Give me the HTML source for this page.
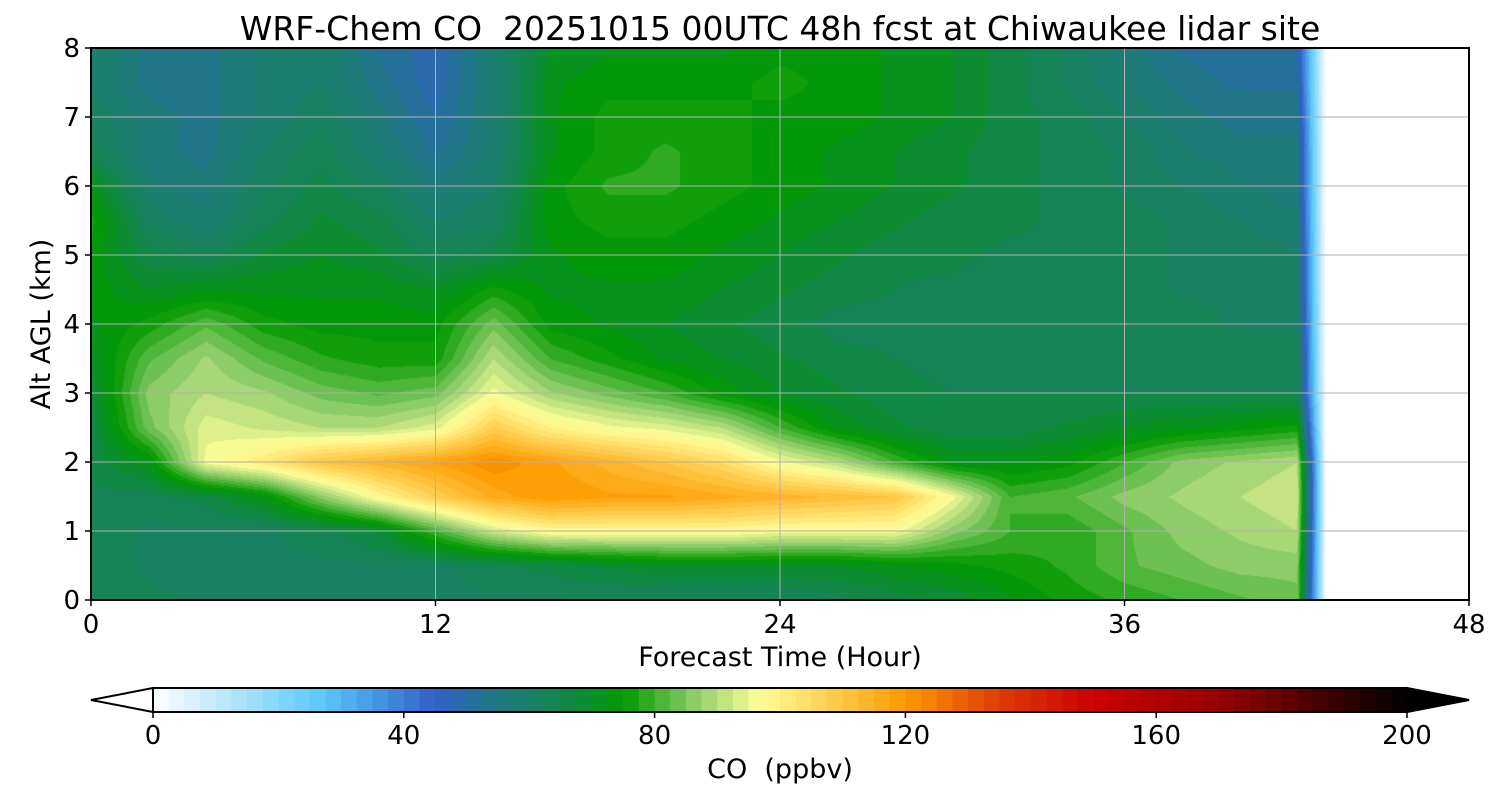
<!DOCTYPE html>
<html><head><meta charset="utf-8">
<style>
body{margin:0;background:#fff;width:1500px;height:800px;overflow:hidden;font-family:"DejaVu Sans","Liberation Sans",sans-serif;}
#wrap{position:relative;width:1500px;height:800px;}
canvas{position:absolute;}
svg{position:absolute;left:0;top:0;}
text{white-space:pre;}
</style></head><body>
<div id="wrap">
<canvas id="cv" width="1378" height="552" style="left:91px;top:48px"></canvas>
<svg id="sv" width="1500" height="800"></svg>
</div>
<script>
const hours=[0,2,4,6,8,10,12,14,16,18,20,22,24,26,28,30,32,34,36,38,40,42];
const alts=[0,0.5,1,1.5,2,2.5,3,3.5,4,4.5,5,5.5,6,6.5,7,7.5,8];
const coRows=[
[65,63,62,62,62,62,62,62,62,62,62,62,62,64,66,68,72,76,78,80,82,84],
[64,62,62,62,62,62,62,64,66,68,70,70,70,70,72,74,76,78,82,84,86,86],
[64,62,62,62,64,68,80,92,98,98,98,98,96,96,96,86,80,78,82,86,88,90],
[64,64,66,72,86,98,108,116,120,118,118,116,114,112,110,96,80,82,86,88,90,92],
[66,72,96,102,110,114,118,122,118,114,110,105,96,90,80,72,72,74,80,86,88,90],
[66,84,94,92,90,90,94,108,100,96,94,90,80,72,68,66,66,68,70,72,74,76],
[68,86,90,88,84,82,84,96,88,84,80,74,70,68,66,65,65,65,65,65,65,65],
[70,82,88,82,78,76,76,90,80,76,72,70,68,66,65,64,64,64,64,64,64,64],
[72,76,82,76,74,74,74,84,74,72,70,68,66,64,64,64,64,64,64,64,62,62],
[74,70,72,72,72,72,70,76,72,72,72,70,68,66,65,64,64,64,64,62,62,60],
[74,66,64,68,70,68,64,66,72,74,74,72,70,68,66,66,64,64,64,62,62,60],
[76,62,58,64,68,66,60,62,74,76,76,74,72,70,68,66,66,64,64,62,60,58],
[72,58,56,62,66,62,56,60,74,78,78,76,74,72,70,68,66,64,62,60,58,56],
[64,56,54,60,64,58,52,58,72,76,78,76,74,72,70,68,66,64,62,58,56,56],
[62,56,54,58,62,56,50,58,72,76,76,76,74,74,72,70,66,64,60,56,54,54],
[60,54,54,58,60,54,48,58,72,74,74,74,76,74,72,70,66,62,58,54,52,52],
[60,54,54,58,60,52,48,58,70,72,72,72,74,74,72,70,66,62,56,52,50,50]];
const dataEndHour=43;
const xTicks=[0,12,24,36,48];
const yTicks=[0,1,2,3,4,5,6,7,8];
const cbTicks=[0,40,80,120,160,200];

const PX0=91,PX1=1469,PY0=600,PY1=48;
const xs=h=>PX0+(h/48)*(PX1-PX0);
const ys=z=>PY0-(z/8)*(PY0-PY1);
const CB0=153,CB1=1407;
const cbx=v=>CB0+(v/200)*(CB1-CB0);

const stops=[[0,[255,255,255]],[27,[90,200,250]],[45,[48,96,200]],[55,[31,122,128]],[65,[21,133,80]],[75,[0,153,0]],[87,[150,208,110]],[97,[255,255,153]],[120,[255,153,0]],[135,[221,60,0]],[150,[204,0,0]],[170,[150,0,0]],[200,[0,0,0]]];
function cmap(v){
  v=Math.max(0,Math.min(200,v));
  for(let i=0;i<stops.length-1;i++){const a=stops[i],b=stops[i+1];
    if(v<=b[0]){const t=(v-a[0])/(b[0]-a[0]);return a[1].map((c,k)=>Math.round(c+(b[1][k]-c)*t));}}
  return [0,0,0];
}
function band(v){return Math.floor(v/2.5)*2.5+1.25;}

const cv=document.getElementById('cv'),ctx=cv.getContext('2d');
const W=cv.width,H=cv.height,img=ctx.createImageData(W,H);
function sample(h,z){
  const ncol=hours.length;
  let iz=Math.min(alts.length-2,Math.floor(z/0.5)),tz=(z-alts[iz])/0.5;
  function rowVal(r,hh){
    if(hh<=42){let i=Math.min(ncol-2,Math.floor(hh/2));let t=(hh-hours[i])/2;return r[i]*(1-t)+r[i+1]*t;}
    const t=(hh-42)/(dataEndHour-42);return r[ncol-1]*(1-t);
  }
  return rowVal(coRows[iz],h)*(1-tz)+rowVal(coRows[iz+1],h)*tz;
}
for(let py=0;py<H;py++){const z=(H-py)/H*8;
  for(let px=0;px<W;px++){const h=px/W*48;const o=(py*W+px)*4;
    let c=[255,255,255];
    if(h<dataEndHour){c=cmap(band(sample(h,z)));}
    img.data[o]=c[0];img.data[o+1]=c[1];img.data[o+2]=c[2];img.data[o+3]=255;}}
ctx.putImageData(img,0,0);

const NS='http://www.w3.org/2000/svg',sv=document.getElementById('sv');
function mk(tag,attrs,text){const e=document.createElementNS(NS,tag);for(const k in attrs)e.setAttribute(k,attrs[k]);if(text!==undefined)e.textContent=text;sv.appendChild(e);return e;}
for(const t of [12,24,36]){const l=mk('line',{x1:xs(t),x2:xs(t),y1:PY1,y2:PY0,stroke:'#b0b0b0','stroke-width':1});

}
for(const t of [1,2,3,4,5,6,7]){const l=mk('line',{x1:PX0,x2:PX1,y1:ys(t),y2:ys(t),stroke:'#b0b0b0','stroke-width':1});

}
const fr=mk('rect',{x:PX0,y:PY1,width:PX1-PX0,height:PY0-PY1,fill:'none',stroke:'#000','stroke-width':2});


for(const t of xTicks){const tk=mk('line',{x1:xs(t),x2:xs(t),y1:PY0,y2:PY0+6,stroke:'#000','stroke-width':1.5});


const lb=mk('text',{x:xs(t),y:633,'font-size':26,'text-anchor':'middle'},String(t));

}
for(const t of yTicks){const tk=mk('line',{x1:PX0-6,x2:PX0,y1:ys(t),y2:ys(t),stroke:'#000','stroke-width':1.5});


const lb=mk('text',{x:80,y:ys(t)+9,'font-size':26,'text-anchor':'end'},String(t));

}
const ti=mk('text',{x:780,y:40,'font-size':33,'text-anchor':'middle'},'WRF-Chem CO  20251015 00UTC 48h fcst at Chiwaukee lidar site');


const xl=mk('text',{x:780,y:666,'font-size':27,'text-anchor':'middle'},'Forecast Time (Hour)');


const yl=mk('text',{x:0,y:0,'font-size':27,'text-anchor':'middle',transform:'translate(50,324) rotate(-90)'},'Alt AGL (km)');


for(let v=0;v<200;v+=2.5){const r=mk('rect',{x:cbx(v),y:688,width:cbx(v+2.5)-cbx(v)+0.6,height:24,fill:'rgb('+cmap(v+1.25).join(',')+')'});

}
const lt=mk('polygon',{points:`${CB0},688 91,700 ${CB0},712`,fill:'#fff',stroke:'#000','stroke-width':2});


const rt=mk('polygon',{points:`${CB1},688 1469,700 ${CB1},712`,fill:'#000',stroke:'#000','stroke-width':2});


const cbf=mk('rect',{x:CB0,y:688,width:CB1-CB0,height:24,fill:'none',stroke:'#000','stroke-width':2});


for(const t of cbTicks){const tk=mk('line',{x1:cbx(t),x2:cbx(t),y1:712,y2:718,stroke:'#000','stroke-width':1.5});


const lb=mk('text',{x:cbx(t),y:744,'font-size':26,'text-anchor':'middle'},String(t));

}
const cl=mk('text',{x:780,y:778,'font-size':27,'text-anchor':'middle'},'CO  (ppbv)');


</script>
</body></html>
